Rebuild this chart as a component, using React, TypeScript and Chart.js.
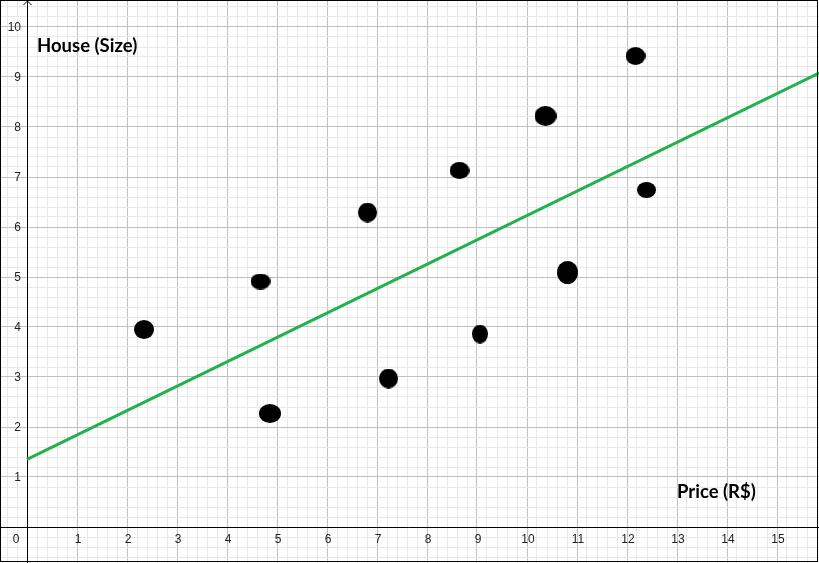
import React, { useEffect, useRef } from "react";
import { Chart, registerables } from "chart.js";

Chart.register(...registerables);

// Data (house price vs size)
const priceValues = [2.34, 4.67, 4.86, 6.81, 7.23, 8.65, 9.06, 10.37, 10.81, 12.17, 12.39];
const sizeValues = [3.95, 4.91, 2.27, 6.29, 2.97, 7.13, 3.86, 8.22, 5.09, 9.42, 6.74];

// Regression line endpoints
const lineX = [0, 15.84];
const lineY = [1.354, 9.08];

// Tick labels
const xTickValues = [0, 1, 2, 3, 4, 5, 6, 7, 8, 9, 10, 11, 12, 13, 14, 15];
const xTickLabels = ["0", "1", "2", "3", "4", "5", "6", "7", "8", "9", "10", "11", "12", "13", "14", "15"];
const yTickValues = [1, 2, 3, 4, 5, 6, 7, 8, 9, 10];
const yTickLabels = ["1", "2", "3", "4", "5", "6", "7", "8", "9", "10"];

// Axis annotations
const yAxisTitle = "House (Size)";
const xAxisTitle = "Price (R$)";

// Style: marker sizes (w,h) in px
const markerW = [20, 20, 22, 19, 19, 20, 16, 22, 21, 20, 19];
const markerH = [19, 16, 19, 20, 20, 17, 19, 20, 23, 18, 16];

function makeEllipse(w: number, h: number): HTMLCanvasElement {
  const c = document.createElement("canvas");
  c.width = w;
  c.height = h;
  const ctx = c.getContext("2d")!;
  ctx.fillStyle = "#000";
  ctx.beginPath();
  ctx.ellipse(w / 2, h / 2, w / 2, h / 2, 0, 0, Math.PI * 2);
  ctx.fill();
  return c;
}

function gridValues(min: number, max: number, step: number) {
  const out: { value: number }[] = [];
  const start = Math.ceil(min / step);
  const end = Math.floor(max / step);
  for (let i = start; i <= end; i++) out.push({ value: +(i * step).toFixed(6) });
  return out;
}

const isMajor = (v: number) => Math.abs(v - Math.round(v)) < 1e-6;

export default function App() {
  const ref = useRef<HTMLCanvasElement>(null);

  useEffect(() => {
    document.body.style.margin = "0";
    const canvas = ref.current!;
    const points = priceValues.map((x, i) => ({ x, y: sizeValues[i] }));
    const linePts = lineX.map((x, i) => ({ x, y: lineY[i] }));
    const styles = markerW.map((w, i) => makeEllipse(w, markerH[i]));

    const overlay = {
      id: "overlay",
      beforeDatasetsDraw(chart: any) {
        const ctx = chart.ctx;
        const xs = chart.scales.x;
        const ys = chart.scales.y;
        const x0 = Math.round(xs.getPixelForValue(0)) + 0.5;
        const y0 = Math.round(ys.getPixelForValue(0)) + 0.5;
        ctx.save();
        ctx.strokeStyle = "#000";
        ctx.lineWidth = 1;
        ctx.beginPath();
        ctx.moveTo(x0, 0);
        ctx.lineTo(x0, chart.height);
        ctx.moveTo(0, y0);
        ctx.lineTo(chart.width, y0);
        ctx.stroke();
        // arrow at top of y axis
        ctx.beginPath();
        ctx.moveTo(x0 - 4, 5);
        ctx.lineTo(x0, 1);
        ctx.lineTo(x0 + 4, 5);
        ctx.stroke();
        // tick labels
        ctx.fillStyle = "#222";
        ctx.font = "12px 'Liberation Sans', Arial, sans-serif";
        ctx.textBaseline = "middle";
        ctx.textAlign = "center";
        xTickValues.forEach((v, i) => {
          const px = v === 0 ? xs.getPixelForValue(0) - 11 : xs.getPixelForValue(v) + 1;
          ctx.fillText(xTickLabels[i], px, ys.getPixelForValue(0) + 13);
        });
        ctx.textAlign = "right";
        yTickValues.forEach((v, i) => {
          ctx.fillText(yTickLabels[i], xs.getPixelForValue(0) - 6, ys.getPixelForValue(v) + 1);
        });
        // axis titles
        ctx.fillStyle = "#000";
        ctx.font = "bold 18.5px Lato, 'Open Sans', sans-serif";
        ctx.textAlign = "left";
        ctx.fillText(yAxisTitle, xs.getPixelForValue(0.2), ys.getPixelForValue(9.62));
        ctx.fillText(xAxisTitle, xs.getPixelForValue(13.0), ys.getPixelForValue(0.7));
        ctx.restore();
      },
      afterDraw(chart: any) {
        const ctx = chart.ctx;
        ctx.save();
        ctx.strokeStyle = "#000";
        ctx.lineWidth = 1;
        ctx.strokeRect(0.5, 0.5, 817, 561);
        ctx.restore();
      },
    };

    const gridColor = (c: any) => {
      const v = c.tick ? c.tick.value : 0;
      return isMajor(v) ? "#c0c0c0" : "#e8e8e8";
    };

    const chart = new Chart(canvas, {
      type: "scatter",
      data: {
        datasets: [
          {
            type: "line",
            data: linePts,
            borderColor: "#22b14c",
            borderWidth: 3,
            pointRadius: 0,
            fill: false,
            tension: 0,
            order: 2,
          } as any,
          {
            data: points,
            pointStyle: styles as any,
            pointRadius: 10,
            backgroundColor: "#000",
            borderColor: "#000",
            order: 1,
          },
        ],
      },
      options: {
        responsive: false,
        animation: false,
        maintainAspectRatio: false,
        layout: { padding: 0, autoPadding: false },
        plugins: { legend: { display: false }, tooltip: { enabled: false }, title: { display: false } },
        scales: {
          x: {
            type: "linear",
            min: -0.54,
            max: 15.84,
            afterBuildTicks: (s: any) => {
              s.ticks = gridValues(-0.54, 15.84, 0.2);
            },
            ticks: { display: false },
            border: { display: false },
            grid: { color: gridColor, lineWidth: 1, drawTicks: false },
          },
          y: {
            type: "linear",
            min: -0.72,
            max: 10.54,
            afterBuildTicks: (s: any) => {
              s.ticks = gridValues(-0.72, 10.54, 0.2);
            },
            ticks: { display: false },
            border: { display: false },
            grid: { color: gridColor, lineWidth: 1, drawTicks: false },
          },
        },
      },
      plugins: [overlay],
    });
    return () => chart.destroy();
  }, []);

  return <canvas ref={ref} width={819} height={563} style={{ display: "block" }} />;
}
